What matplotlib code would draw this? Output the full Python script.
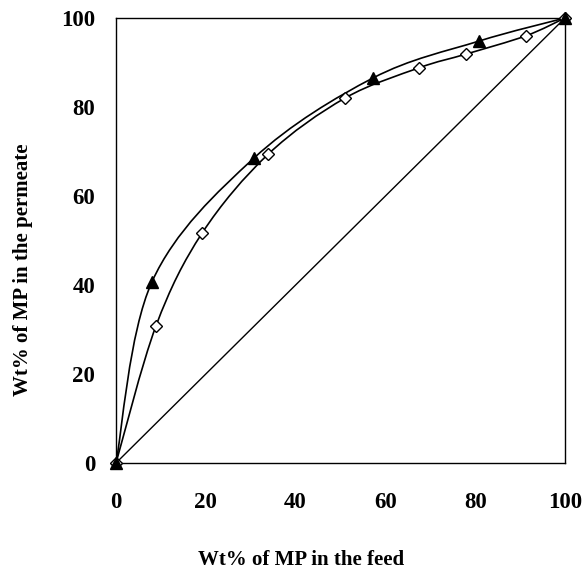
import numpy as np
import matplotlib
matplotlib.use("Agg")
import matplotlib.pyplot as plt
from matplotlib.path import Path
import matplotlib.patches as patches

plt.rcParams['font.family'] = ['Liberation Serif', 'DejaVu Serif']

# data
feed_tri = [0, 8.0, 30.7, 57.2, 80.8, 100]
perm_tri = [0, 40.7, 68.5, 86.5, 94.8, 100]
feed_dia = [0, 8.9, 19.2, 33.9, 51.0, 67.5, 78.0, 91.3, 100]
perm_dia = [0, 30.8, 51.7, 69.4, 82.0, 88.8, 91.9, 96.0, 100]
ticks = [0, 20, 40, 60, 80, 100]


def smooth_path(xs, ys, tension=0.5):
    # Excel-like smoothed line: cubic bezier segments with Catmull-Rom tangents
    xs = np.asarray(xs, float)
    ys = np.asarray(ys, float)
    n = len(xs)
    verts = [(xs[0], ys[0])]
    codes = [Path.MOVETO]
    for i in range(n - 1):
        p0 = np.array([xs[max(i - 1, 0)], ys[max(i - 1, 0)]])
        p1 = np.array([xs[i], ys[i]])
        p2 = np.array([xs[i + 1], ys[i + 1]])
        p3 = np.array([xs[min(i + 2, n - 1)], ys[min(i + 2, n - 1)]])
        c1 = p1 + (p2 - p0) * tension / 3
        c2 = p2 - (p3 - p1) * tension / 3
        verts += [tuple(c1), tuple(c2), tuple(p2)]
        codes += [Path.CURVE4] * 3
    return Path(verts, codes)


W, H = 582, 578
fig = plt.figure(figsize=(W / 100, H / 100), dpi=100)
ax = fig.add_axes([116 / W, 1 - 463 / H, 449 / W, 445 / H])

ax.plot([0, 100], [0, 100], color='black', lw=1.0)
for xs, ys in [(feed_tri, perm_tri), (feed_dia, perm_dia)]:
    ax.add_patch(patches.PathPatch(smooth_path(xs, ys), fill=False,
                                   edgecolor='black', lw=1.2))

ax.plot(feed_dia, perm_dia, ls='none', marker='D', ms=6.5,
        mfc='white', mec='black', mew=1.0, zorder=3, clip_on=False)
ax.plot(feed_tri, perm_tri, ls='none', marker='^', ms=8,
        mfc='black', mec='black', zorder=4, clip_on=False)

ax.set_xlim(0, 100)
ax.set_ylim(0, 100)
ax.set_xticks(ticks)
ax.set_yticks(ticks)
ax.tick_params(length=0, labelsize=16.5)
ax.tick_params(axis='x', pad=21)
ax.tick_params(axis='y', pad=15)
for lab in ax.get_xticklabels() + ax.get_yticklabels():
    lab.set_fontweight('bold')
for s in ax.spines.values():
    s.set_linewidth(1.0)

fig.text(301 / W, 1 - 560 / H, 'Wt% of MP in the feed', fontsize=15,
         fontweight='bold', ha='center', va='center')
fig.text(23 / W, 1 - 270 / H, 'Wt% of MP in the permeate', fontsize=15,
         fontweight='bold', ha='center', va='center', rotation=90)

fig.savefig('out.png', dpi=100)
